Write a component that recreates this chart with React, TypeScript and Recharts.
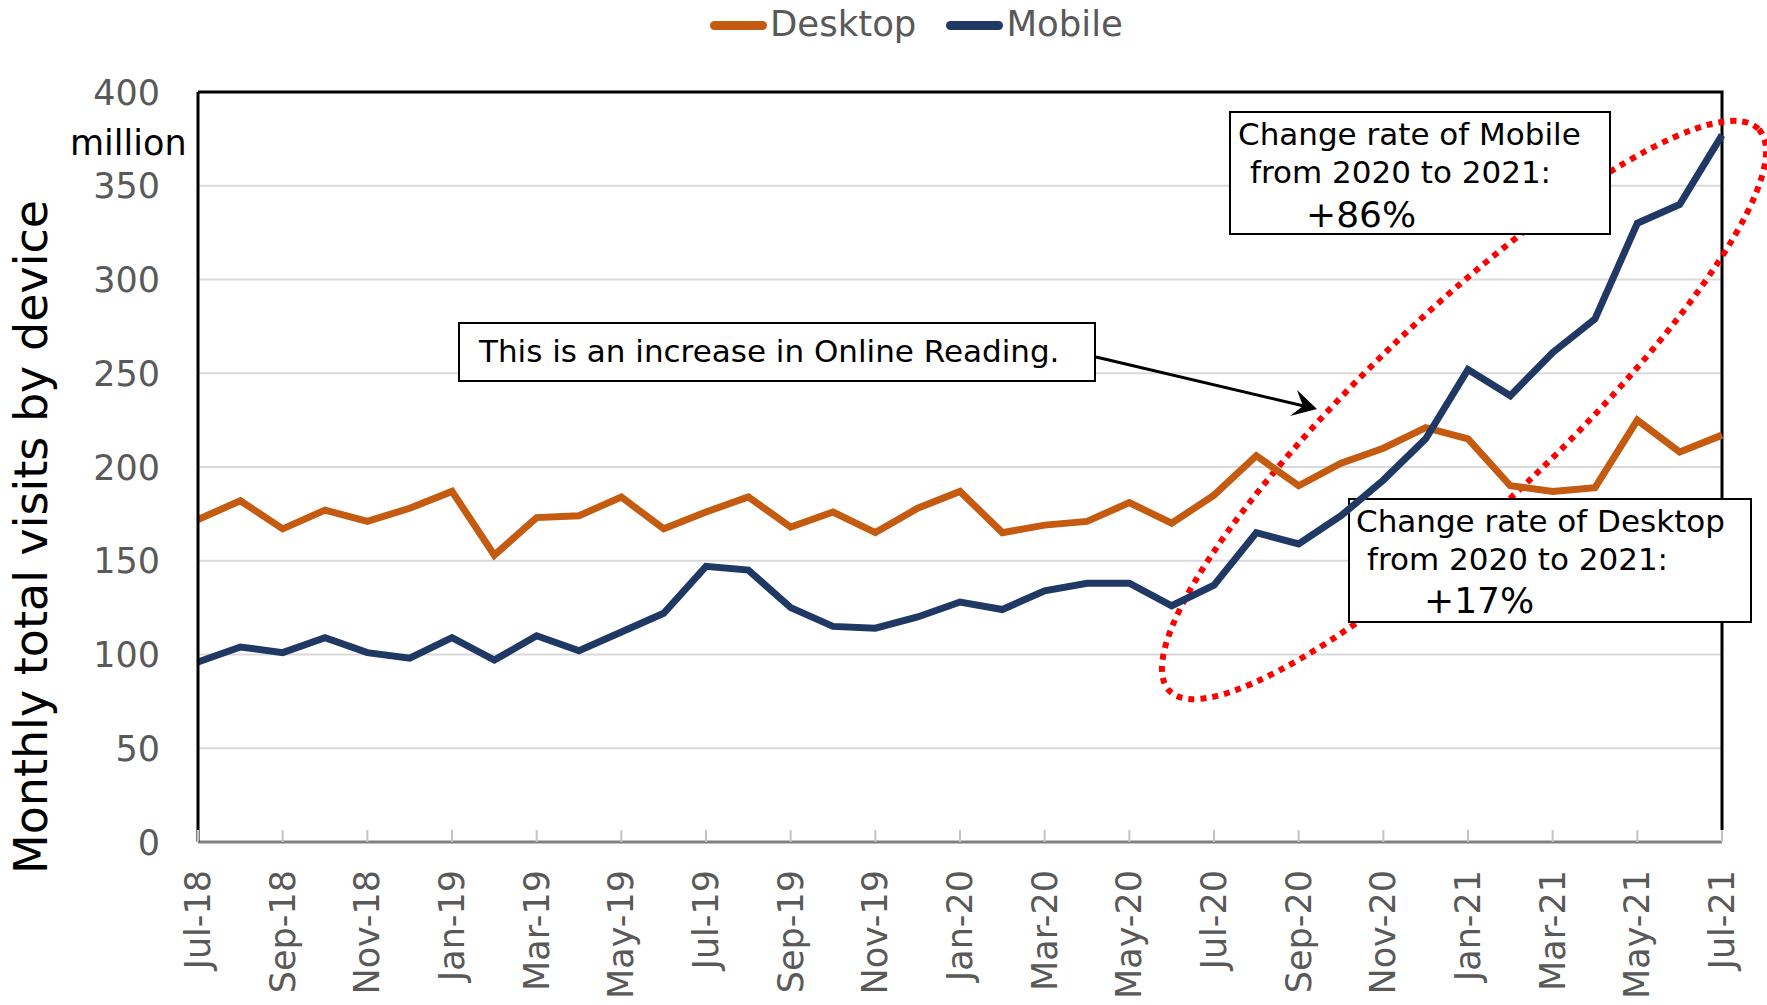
import { LineChart, Line, XAxis, YAxis, CartesianGrid, Legend } from "recharts";

const months = [
  "Jul-18", "Aug-18", "Sep-18", "Oct-18", "Nov-18", "Dec-18",
  "Jan-19", "Feb-19", "Mar-19", "Apr-19", "May-19", "Jun-19",
  "Jul-19", "Aug-19", "Sep-19", "Oct-19", "Nov-19", "Dec-19",
  "Jan-20", "Feb-20", "Mar-20", "Apr-20", "May-20", "Jun-20",
  "Jul-20", "Aug-20", "Sep-20", "Oct-20", "Nov-20", "Dec-20",
  "Jan-21", "Feb-21", "Mar-21", "Apr-21", "May-21", "Jun-21", "Jul-21",
];

// monthly visits, million
const desktop = [
  172, 182, 167, 177, 171, 178, 187, 153, 173, 174, 184, 167,
  176, 184, 168, 176, 165, 178, 187, 165, 169, 171, 181, 170,
  185, 206, 190, 202, 210, 221, 215, 190, 187, 189, 225, 208, 217,
];
const mobile = [
  96, 104, 101, 109, 101, 98, 109, 97, 110, 102, 112, 122,
  147, 145, 125, 115, 114, 120, 128, 124, 134, 138, 138, 126,
  137, 165, 159, 174, 193, 215, 252, 238, 261, 279, 330, 340, 377,
];

const yTicks = [0, 50, 100, 150, 200, 250, 300, 350, 400];

const series = [
  { key: "desktop", name: "Desktop", color: "#C55A11" },
  { key: "mobile", name: "Mobile", color: "#203864" },
];

const data = months.map((month, i) => ({
  month,
  desktop: desktop[i],
  mobile: mobile[i],
}));

const FONT = "'DejaVu Sans', Verdana, sans-serif";
const GRAY = "#595959";

function XTick({ x, y, payload }: any) {
  const px = x + 12;
  const py = y + 28;
  return (
    <g>
      <line x1={x} x2={x} y1={y - 12} y2={y} stroke="#c4c4c4" strokeWidth={2} />
      <text
        x={px}
        y={py}
        transform={`rotate(-90 ${px} ${py})`}
        textAnchor="end"
        fontSize={35}
        fontFamily={FONT}
        fill={GRAY}
      >
        {payload.value}
      </text>
    </g>
  );
}

function YTick({ x, y, payload }: any) {
  return (
    <text x={x} y={y + 12.5} textAnchor="end" fontSize={35} fontFamily={FONT} fill={GRAY}>
      {payload.value}
    </text>
  );
}

function LegendContent() {
  return (
    <div
      style={{
        display: "flex",
        alignItems: "center",
        height: 41,
        marginLeft: 710,
        fontFamily: FONT,
        fontSize: 35.5,
        color: GRAY,
        whiteSpace: "nowrap",
      }}
    >
      {series.map((s) => (
        <div key={s.key} style={{ display: "flex", alignItems: "center", marginRight: 30 }}>
          <span
            style={{
              display: "inline-block",
              width: 57,
              height: 9,
              borderRadius: 4.5,
              background: s.color,
              marginTop: 4,
            }}
          />
          <span style={{ marginLeft: 3 }}>{s.name}</span>
        </div>
      ))}
    </div>
  );
}

function Annotations() {
  const txt = { fontFamily: FONT, fill: "#000" };
  return (
    <g>
      {/* plot frame (top / right edges), under the callouts */}
      <path d="M198,92 H1722 V830" fill="none" stroke="#000" strokeWidth={3} />

      <ellipse
        cx={1464}
        cy={410}
        rx={407}
        ry={96}
        transform="rotate(-43.6 1464 410)"
        fill="none"
        stroke="#FF0000"
        strokeWidth={6}
        strokeDasharray="6 6"
      />

      <rect x={459} y={323} width={636} height={58} fill="#fff" stroke="#000" strokeWidth={2} />
      <text x={479} y={362} fontSize={31} {...txt}>
        This is an increase in Online Reading.
      </text>
      <line x1={1096} y1={357} x2={1304} y2={406} stroke="#000" strokeWidth={3} />
      <polygon points="1317,409 1297,390 1303,406 1290,416" fill="#000" />

      <rect x={1230} y={112} width={380} height={122} fill="#fff" stroke="#000" strokeWidth={2} />
      <text x={1238} y={145} fontSize={31} {...txt}>Change rate of Mobile</text>
      <text x={1250} y={183} fontSize={31} {...txt}>from 2020 to 2021:</text>
      <text x={1306} y={227} fontSize={36} {...txt}>+86%</text>

      <rect x={1349} y={499} width={402} height={123} fill="#fff" stroke="#000" strokeWidth={2} />
      <text x={1356} y={532} fontSize={31} {...txt}>Change rate of Desktop</text>
      <text x={1367} y={570} fontSize={31} {...txt}>from 2020 to 2021:</text>
      <text x={1424} y={613} fontSize={36} {...txt}>+17%</text>

      <text
        x={47}
        y={537}
        transform="rotate(-90 47 537)"
        textAnchor="middle"
        fontSize={46}
        {...txt}
      >
        Monthly total visits by device
      </text>
      <text x={70} y={155} fontSize={35} {...txt}>
        million
      </text>
    </g>
  );
}

export default function App() {
  return (
    <div style={{ position: "relative", width: 1767, height: 1005, background: "#fff" }}>
      <style>{"body{margin:0}"}</style>
      <LineChart width={1767} height={1005} data={data} margin={{ top: 92, right: 45, left: 0, bottom: 0 }}>
        <CartesianGrid vertical={false} stroke="#d9d9d9" strokeWidth={2} />
        <XAxis
          dataKey="month"
          height={163}
          interval={1}
          tickSize={0}
          tickMargin={0}
          tickLine={false}
          axisLine={{ stroke: "#808080", strokeWidth: 3 }}
          tick={(p: any) => <XTick {...p} />}
        />
        <YAxis
          width={198}
          domain={[0, 400]}
          ticks={yTicks}
          interval={0}
          tickSize={0}
          tickMargin={38}
          tickLine={false}
          axisLine={{ stroke: "#000", strokeWidth: 3 }}
          tick={(p: any) => <YTick {...p} />}
        />
        <Legend
          layout="horizontal"
          verticalAlign="middle"
          align="center"
          wrapperStyle={{ top: 3, left: 0, width: 1767, height: 41 }}
          content={() => <LegendContent />}
        />
        <Annotations />
        {series.map((s) => (
          <Line
            key={s.key}
            type="linear"
            dataKey={s.key}
            name={s.name}
            stroke={s.color}
            strokeWidth={7}
            dot={false}
            isAnimationActive={false}
          />
        ))}
      </LineChart>
    </div>
  );
}
